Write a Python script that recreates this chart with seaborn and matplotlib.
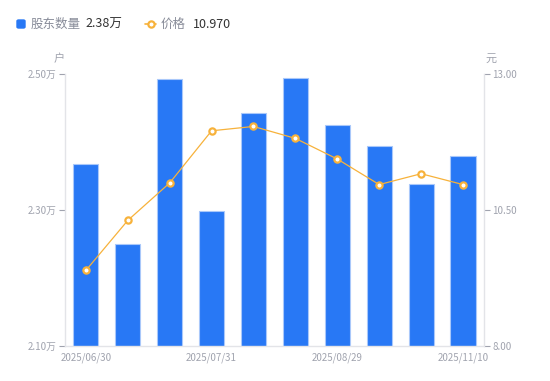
import numpy as np
import pandas as pd
import matplotlib
matplotlib.use("Agg")
import matplotlib.pyplot as plt
import matplotlib.patches as mpatches
from matplotlib.lines import Line2D
import seaborn as sns

# Data
dates = ['2025/06/30', '2025/07/10', '2025/07/20', '2025/07/31', '2025/08/10',
         '2025/08/20', '2025/08/29', '2025/09/30', '2025/10/20', '2025/11/10']
holders = [2.368, 2.250, 2.493, 2.299, 2.443, 2.494, 2.425, 2.395, 2.338, 2.379]  # 万户
price = [9.39, 10.31, 11.00, 11.96, 12.04, 11.82, 11.44, 10.97, 11.17, 10.97]
shown_ticks = ['2025/06/30', '2025/07/31', '2025/08/29', '2025/11/10']
left_ticks = [2.10, 2.30, 2.50]
right_ticks = [8.00, 10.50, 13.00]

df = pd.DataFrame({'date': dates, 'holders': holders, 'price': price})

sns.set_theme(style='white')
plt.rcParams['font.family'] = ['Noto Sans CJK SC', 'DejaVu Sans']

BLUE = '#2878F5'
ORANGE = '#F7B23B'
GREY = '#A0A3AE'
AXIS = '#E3E4E8'

fig = plt.figure(figsize=(5.5, 3.81), dpi=100)
ax = fig.add_axes([0.118, 0.092, 0.762, 0.713])

sns.barplot(data=df, x='date', y='holders', color=BLUE, width=0.6,
            edgecolor='#A9C8FA', linewidth=0.8, saturation=1, ax=ax)
ax.set_ylim(2.10, 2.50)
ax.set_yticks(left_ticks)
ax.set_yticklabels([f'{v:.2f}万' for v in left_ticks])

ax2 = ax.twinx()
sns.pointplot(data=df, x='date', y='price', color=ORANGE, markers='o',
              linestyles='-', ax=ax2, linewidth=0.9, markersize=4.5,
              markerfacecolor='white', markeredgecolor=ORANGE, markeredgewidth=1.6)
ax2.set_ylim(8.0, 13.0)
ax2.set_yticks(right_ticks)
ax2.set_yticklabels([f'{v:.2f}' for v in right_ticks])
ax.set_xlim(-0.5, len(dates) - 0.5)
ax2.set_xlim(-0.5, len(dates) - 0.5)

ax.set_xticks([dates.index(t) for t in shown_ticks])
ax.set_xticklabels(shown_ticks)

for a in (ax, ax2):
    a.set_xlabel('')
    a.set_ylabel('')
    a.grid(False)
    a.spines['top'].set_visible(False)
    for s in ('left', 'right', 'bottom'):
        a.spines[s].set_color(AXIS)
        a.spines[s].set_linewidth(1)
    a.tick_params(axis='both', colors=GREY, labelsize=7, length=4, width=0.8,
                  labelcolor=GREY, pad=2)
ax.tick_params(axis='x', length=0, pad=5)
ax2.spines['left'].set_visible(False)
ax.spines['right'].set_visible(False)
ax2.spines['bottom'].set_visible(False)
ax.tick_params(axis='y', left=True, direction='out')
ax2.tick_params(axis='y', right=True, direction='out')

# unit labels
fig.text(0.107, 0.845, '户', color=GREY, fontsize=8, ha='center', va='center')
fig.text(0.892, 0.845, '元', color=GREY, fontsize=8, ha='center', va='center')

# custom legend
fig.patches.append(mpatches.FancyBboxPatch((17 / 550, 1 - 28 / 381), 8 / 550, 8 / 381,
                                           boxstyle='round,pad=0,rounding_size=0.003',
                                           transform=fig.transFigure, color=BLUE))
fig.text(31 / 550, 1 - 24 / 381, '股东数量', color='#888C99', fontsize=9, va='center')
fig.text(85 / 550, 1 - 24 / 381, f'{holders[-1]:.2f}万', color='#333333', fontsize=9, va='center')
fig.lines.append(Line2D([145 / 550, 156 / 550], [1 - 24 / 381, 1 - 24 / 381],
                        transform=fig.transFigure, color=ORANGE, linewidth=1.2,
                        marker='o', markevery=[0], markersize=0))
fig.lines.append(Line2D([150.5 / 550], [1 - 24 / 381], transform=fig.transFigure,
                        color=ORANGE, marker='o', markersize=4.5, markerfacecolor='white',
                        markeredgewidth=1.6))
fig.text(161 / 550, 1 - 24 / 381, '价格', color='#888C99', fontsize=9, va='center')
fig.text(193 / 550, 1 - 24 / 381, f'{price[-1]:.3f}', color='#333333', fontsize=9, va='center')

fig.savefig('out.png', dpi=100)
